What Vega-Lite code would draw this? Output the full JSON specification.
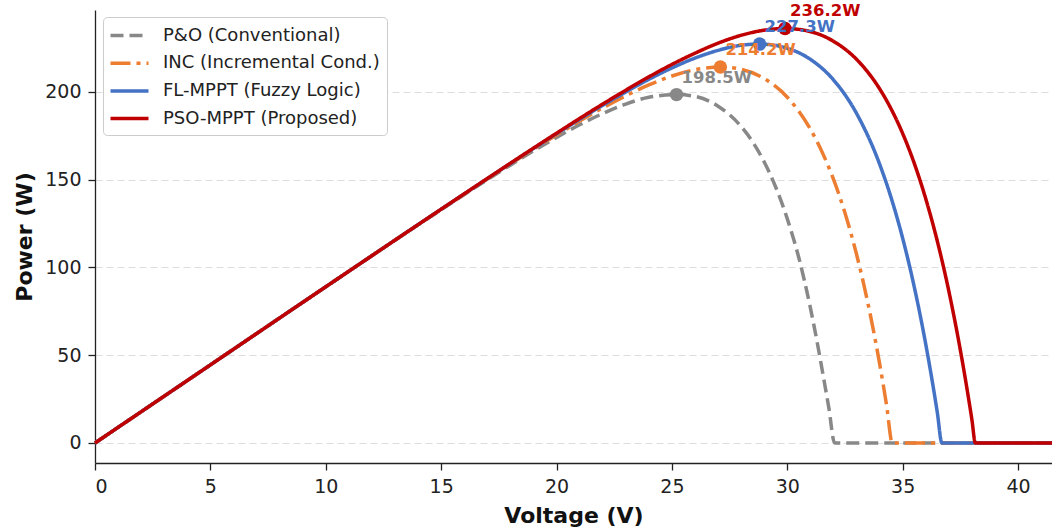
{
  "$schema": "https://vega.github.io/schema/vega-lite/v6.json",
  "width": 957,
  "height": 453,
  "autosize": {"type": "none"},
  "padding": {"left": 95, "top": 10, "right": 0, "bottom": 66},
  "background": "white",
  "config": {
    "view": {"stroke": null},
    "font": "DejaVu Sans",
    "axis": {
      "domainColor": "#222", "domainWidth": 1.3,
      "tickColor": "#222", "tickWidth": 1.3, "tickSize": 7,
      "labelFont": "DejaVu Sans", "labelFontSize": 19, "labelColor": "#222",
      "titleFont": "DejaVu Sans", "titleFontSize": 22, "titleFontWeight": "bold", "titleColor": "#111",
      "gridColor": "#dddddd", "gridDash": [7, 4], "gridWidth": 1.2
    },
    "axisX": {"labelPadding": 7, "titlePadding": 9},
    "axisY": {"labelPadding": 7, "titlePadding": 8}
  },
  "datasets": {
    "curves": [
      {"method": "P&O (Conventional)", "v": 0, "p": 0},
      {"method": "P&O (Conventional)", "v": 5, "p": 44.5},
      {"method": "P&O (Conventional)", "v": 10, "p": 89},
      {"method": "P&O (Conventional)", "v": 15, "p": 132.9},
      {"method": "P&O (Conventional)", "v": 17, "p": 150.0},
      {"method": "P&O (Conventional)", "v": 19, "p": 166.4},
      {"method": "P&O (Conventional)", "v": 20, "p": 174.1},
      {"method": "P&O (Conventional)", "v": 21, "p": 181.3},
      {"method": "P&O (Conventional)", "v": 22, "p": 187.7},
      {"method": "P&O (Conventional)", "v": 23, "p": 193.1},
      {"method": "P&O (Conventional)", "v": 24, "p": 197.0},
      {"method": "P&O (Conventional)", "v": 25.2, "p": 198.5},
      {"method": "P&O (Conventional)", "v": 26, "p": 197.5},
      {"method": "P&O (Conventional)", "v": 27, "p": 191.9},
      {"method": "P&O (Conventional)", "v": 28, "p": 180.3},
      {"method": "P&O (Conventional)", "v": 28.5, "p": 171.5},
      {"method": "P&O (Conventional)", "v": 29, "p": 160.1},
      {"method": "P&O (Conventional)", "v": 29.5, "p": 145.7},
      {"method": "P&O (Conventional)", "v": 30, "p": 127.7},
      {"method": "P&O (Conventional)", "v": 30.5, "p": 105.5},
      {"method": "P&O (Conventional)", "v": 31, "p": 77},
      {"method": "P&O (Conventional)", "v": 31.3, "p": 57},
      {"method": "P&O (Conventional)", "v": 31.6, "p": 35},
      {"method": "P&O (Conventional)", "v": 31.8, "p": 20},
      {"method": "P&O (Conventional)", "v": 32.05, "p": 0},
      {"method": "P&O (Conventional)", "v": 41.5, "p": 0},
      {"method": "INC (Incremental Cond.)", "v": 0, "p": 0},
      {"method": "INC (Incremental Cond.)", "v": 5, "p": 44.5},
      {"method": "INC (Incremental Cond.)", "v": 10, "p": 89},
      {"method": "INC (Incremental Cond.)", "v": 15, "p": 133.1},
      {"method": "INC (Incremental Cond.)", "v": 17, "p": 150.4},
      {"method": "INC (Incremental Cond.)", "v": 19, "p": 167.4},
      {"method": "INC (Incremental Cond.)", "v": 20, "p": 175.5},
      {"method": "INC (Incremental Cond.)", "v": 21, "p": 183.4},
      {"method": "INC (Incremental Cond.)", "v": 22, "p": 190.9},
      {"method": "INC (Incremental Cond.)", "v": 23, "p": 197.8},
      {"method": "INC (Incremental Cond.)", "v": 24, "p": 204.0},
      {"method": "INC (Incremental Cond.)", "v": 25, "p": 209.1},
      {"method": "INC (Incremental Cond.)", "v": 26, "p": 212.7},
      {"method": "INC (Incremental Cond.)", "v": 27.1, "p": 214.2},
      {"method": "INC (Incremental Cond.)", "v": 28, "p": 212.9},
      {"method": "INC (Incremental Cond.)", "v": 29, "p": 207.6},
      {"method": "INC (Incremental Cond.)", "v": 30, "p": 197.0},
      {"method": "INC (Incremental Cond.)", "v": 31, "p": 178.8},
      {"method": "INC (Incremental Cond.)", "v": 31.5, "p": 166.0},
      {"method": "INC (Incremental Cond.)", "v": 32, "p": 150.3},
      {"method": "INC (Incremental Cond.)", "v": 32.5, "p": 131.0},
      {"method": "INC (Incremental Cond.)", "v": 33, "p": 107.5},
      {"method": "INC (Incremental Cond.)", "v": 33.5, "p": 79.2},
      {"method": "INC (Incremental Cond.)", "v": 34, "p": 45.2},
      {"method": "INC (Incremental Cond.)", "v": 34.3, "p": 21.7},
      {"method": "INC (Incremental Cond.)", "v": 34.55, "p": 0},
      {"method": "INC (Incremental Cond.)", "v": 41.5, "p": 0},
      {"method": "FL-MPPT (Fuzzy Logic)", "v": 0, "p": 0},
      {"method": "FL-MPPT (Fuzzy Logic)", "v": 5, "p": 44.5},
      {"method": "FL-MPPT (Fuzzy Logic)", "v": 10, "p": 89},
      {"method": "FL-MPPT (Fuzzy Logic)", "v": 15, "p": 133.2},
      {"method": "FL-MPPT (Fuzzy Logic)", "v": 17, "p": 150.6},
      {"method": "FL-MPPT (Fuzzy Logic)", "v": 19, "p": 167.8},
      {"method": "FL-MPPT (Fuzzy Logic)", "v": 20, "p": 176.2},
      {"method": "FL-MPPT (Fuzzy Logic)", "v": 21, "p": 184.4},
      {"method": "FL-MPPT (Fuzzy Logic)", "v": 22, "p": 192.4},
      {"method": "FL-MPPT (Fuzzy Logic)", "v": 23, "p": 200.0},
      {"method": "FL-MPPT (Fuzzy Logic)", "v": 24, "p": 207.2},
      {"method": "FL-MPPT (Fuzzy Logic)", "v": 25, "p": 213.7},
      {"method": "FL-MPPT (Fuzzy Logic)", "v": 26, "p": 219.3},
      {"method": "FL-MPPT (Fuzzy Logic)", "v": 27, "p": 223.7},
      {"method": "FL-MPPT (Fuzzy Logic)", "v": 28, "p": 226.6},
      {"method": "FL-MPPT (Fuzzy Logic)", "v": 28.8, "p": 227.3},
      {"method": "FL-MPPT (Fuzzy Logic)", "v": 29.5, "p": 226.5},
      {"method": "FL-MPPT (Fuzzy Logic)", "v": 30, "p": 224.9},
      {"method": "FL-MPPT (Fuzzy Logic)", "v": 31, "p": 218.6},
      {"method": "FL-MPPT (Fuzzy Logic)", "v": 32, "p": 206.9},
      {"method": "FL-MPPT (Fuzzy Logic)", "v": 33, "p": 187.8},
      {"method": "FL-MPPT (Fuzzy Logic)", "v": 34, "p": 158.9},
      {"method": "FL-MPPT (Fuzzy Logic)", "v": 34.5, "p": 139.7},
      {"method": "FL-MPPT (Fuzzy Logic)", "v": 35, "p": 116.6},
      {"method": "FL-MPPT (Fuzzy Logic)", "v": 35.5, "p": 89.0},
      {"method": "FL-MPPT (Fuzzy Logic)", "v": 36, "p": 56.2},
      {"method": "FL-MPPT (Fuzzy Logic)", "v": 36.3, "p": 33.7},
      {"method": "FL-MPPT (Fuzzy Logic)", "v": 36.5, "p": 17.4},
      {"method": "FL-MPPT (Fuzzy Logic)", "v": 36.7, "p": 0},
      {"method": "FL-MPPT (Fuzzy Logic)", "v": 41.5, "p": 0},
      {"method": "PSO-MPPT (Proposed)", "v": 0, "p": 0},
      {"method": "PSO-MPPT (Proposed)", "v": 5, "p": 44.5},
      {"method": "PSO-MPPT (Proposed)", "v": 10, "p": 89},
      {"method": "PSO-MPPT (Proposed)", "v": 15, "p": 133.2},
      {"method": "PSO-MPPT (Proposed)", "v": 17, "p": 150.7},
      {"method": "PSO-MPPT (Proposed)", "v": 19, "p": 168.0},
      {"method": "PSO-MPPT (Proposed)", "v": 20, "p": 176.5},
      {"method": "PSO-MPPT (Proposed)", "v": 21, "p": 184.9},
      {"method": "PSO-MPPT (Proposed)", "v": 22, "p": 193.1},
      {"method": "PSO-MPPT (Proposed)", "v": 23, "p": 201.0},
      {"method": "PSO-MPPT (Proposed)", "v": 24, "p": 208.6},
      {"method": "PSO-MPPT (Proposed)", "v": 25, "p": 215.7},
      {"method": "PSO-MPPT (Proposed)", "v": 26, "p": 222.1},
      {"method": "PSO-MPPT (Proposed)", "v": 27, "p": 227.8},
      {"method": "PSO-MPPT (Proposed)", "v": 28, "p": 232.3},
      {"method": "PSO-MPPT (Proposed)", "v": 29, "p": 235.2},
      {"method": "PSO-MPPT (Proposed)", "v": 29.9, "p": 236.2},
      {"method": "PSO-MPPT (Proposed)", "v": 31, "p": 234.4},
      {"method": "PSO-MPPT (Proposed)", "v": 32, "p": 228.9},
      {"method": "PSO-MPPT (Proposed)", "v": 33, "p": 218.6},
      {"method": "PSO-MPPT (Proposed)", "v": 34, "p": 201.8},
      {"method": "PSO-MPPT (Proposed)", "v": 34.5, "p": 190.3},
      {"method": "PSO-MPPT (Proposed)", "v": 35, "p": 176.3},
      {"method": "PSO-MPPT (Proposed)", "v": 35.5, "p": 159.4},
      {"method": "PSO-MPPT (Proposed)", "v": 36, "p": 139.1},
      {"method": "PSO-MPPT (Proposed)", "v": 36.5, "p": 115.0},
      {"method": "PSO-MPPT (Proposed)", "v": 37, "p": 86.5},
      {"method": "PSO-MPPT (Proposed)", "v": 37.5, "p": 52.8},
      {"method": "PSO-MPPT (Proposed)", "v": 37.8, "p": 29.8},
      {"method": "PSO-MPPT (Proposed)", "v": 38, "p": 13.2},
      {"method": "PSO-MPPT (Proposed)", "v": 38.15, "p": 0},
      {"method": "PSO-MPPT (Proposed)", "v": 41.5, "p": 0}
    ],
    "peaks": [
      {"method": "P&O (Conventional)", "v": 25.2, "p": 198.5, "label": "198.5W"},
      {"method": "INC (Incremental Cond.)", "v": 27.1, "p": 214.2, "label": "214.2W"},
      {"method": "FL-MPPT (Fuzzy Logic)", "v": 28.8, "p": 227.3, "label": "227.3W"},
      {"method": "PSO-MPPT (Proposed)", "v": 29.9, "p": 236.2, "label": "236.2W"}
    ]
  },
  "encoding": {
    "x": {
      "field": "v", "type": "quantitative",
      "scale": {"domain": [0, 41.47], "nice": false, "zero": false},
      "axis": {"values": [0, 5, 10, 15, 20, 25, 30, 35, 40], "title": "Voltage (V)", "grid": false}
    },
    "y": {
      "field": "p", "type": "quantitative",
      "scale": {"domain": [-11.4, 246.7], "nice": false, "zero": false},
      "axis": {"values": [0, 50, 100, 150, 200], "title": "Power (W)", "grid": true}
    }
  },
  "layer": [
    {
      "data": {"name": "curves"},
      "transform": [{"filter": "datum.method === 'P&O (Conventional)'"}],
      "mark": {"type": "line", "strokeWidth": 3.5, "interpolate": "monotone"},
      "encoding": {
        "color": {
          "field": "method", "type": "nominal",
          "scale": {"domain": ["P&O (Conventional)", "INC (Incremental Cond.)", "FL-MPPT (Fuzzy Logic)", "PSO-MPPT (Proposed)"], "range": ["#888888", "#ED7D31", "#4472C4", "#C00000"]},
          "legend": {"title": null, "orient": "none", "legendX": 8, "legendY": 7, "symbolType": "M-2,0L2,0", "symbolSize": 361, "symbolOffset": 8, "symbolStrokeWidth": 3.5, "labelFontSize": 18, "labelFont": "DejaVu Sans", "labelColor": "#222", "rowPadding": 6.7, "padding": 7, "strokeColor": "#cccccc", "fillColor": "white", "cornerRadius": 4, "labelOffset": 22, "labelLimit": 400}
        },
        "strokeDash": {
          "field": "method", "type": "nominal",
          "scale": {"domain": ["P&O (Conventional)", "INC (Incremental Cond.)", "FL-MPPT (Fuzzy Logic)", "PSO-MPPT (Proposed)"], "range": [[13, 6], [20, 6, 4, 6], [1, 0], [1, 0]]},
          "legend": {"title": null, "orient": "none", "legendX": 8, "legendY": 7, "symbolType": "M-2,0L2,0", "symbolSize": 361, "symbolOffset": 8, "symbolStrokeWidth": 3.5, "labelFontSize": 18, "labelFont": "DejaVu Sans", "labelColor": "#222", "rowPadding": 6.7, "padding": 7, "strokeColor": "#cccccc", "fillColor": "white", "cornerRadius": 4, "labelOffset": 22, "labelLimit": 400}
        }
      }
    },
    {
      "data": {"name": "curves"},
      "transform": [{"filter": "datum.method === 'INC (Incremental Cond.)'"}],
      "mark": {"type": "line", "strokeWidth": 3.5, "interpolate": "monotone"},
      "encoding": {
        "color": {"field": "method", "type": "nominal"},
        "strokeDash": {"field": "method", "type": "nominal"}
      }
    },
    {
      "data": {"name": "curves"},
      "transform": [{"filter": "datum.method === 'FL-MPPT (Fuzzy Logic)'"}],
      "mark": {"type": "line", "strokeWidth": 3.5, "interpolate": "monotone"},
      "encoding": {
        "color": {"field": "method", "type": "nominal"},
        "strokeDash": {"field": "method", "type": "nominal"}
      }
    },
    {
      "data": {"name": "curves"},
      "transform": [{"filter": "datum.method === 'PSO-MPPT (Proposed)'"}],
      "mark": {"type": "line", "strokeWidth": 3.5, "interpolate": "monotone"},
      "encoding": {
        "color": {"field": "method", "type": "nominal"},
        "strokeDash": {"field": "method", "type": "nominal"}
      }
    },
    {
      "data": {"name": "peaks"},
      "mark": {"type": "circle", "size": 180, "opacity": 1},
      "encoding": {
        "color": {"field": "method", "type": "nominal", "legend": null}
      }
    },
    {
      "data": {"name": "peaks"},
      "mark": {"type": "text", "align": "left", "baseline": "middle", "dx": 5, "dy": -17, "fontSize": 16.5, "fontWeight": "bold", "font": "DejaVu Sans"},
      "encoding": {
        "text": {"field": "label"},
        "color": {"field": "method", "type": "nominal", "legend": null}
      }
    }
  ]
}
